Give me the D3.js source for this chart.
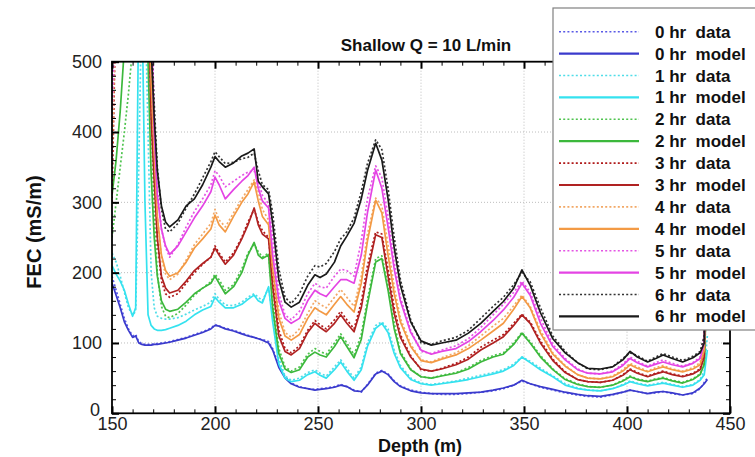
<!DOCTYPE html>
<html><head><meta charset="utf-8">
<script src="https://cdn.jsdelivr.net/npm/d3@7"></script>
<style>
body{margin:0;background:#fff;}
svg{display:block;font-family:"Liberation Sans",Arial,Helvetica,sans-serif;}
</style>
</head><body>
<svg id="chart" width="755" height="457"></svg>
<script>
// ---------- DATA ----------
const depth = [
 150,152,154,156,158,160,161.5,163,164.5,166,
 167.5,169,170.5,172,174,176,178,182,186,190,
 194,198,200,202,205,209,213,216,219,221,
 223,226,228,231,234,237,241,245,248.5,251,
 254,258,261,264,267.5,271,274,278,281,284,
 287,290,295,300,305,310,317,323,329,335,
 340,345,349,353,358,364,370,376,381,387,
 393,398,401.5,405,410,414,417.5,422,427,432,
 435.5,437.5,439];

const hourLabels = ["0 hr","1 hr","2 hr","3 hr","4 hr","5 hr","6 hr"];
const modelColors = ["#3a3acc","#35e2ef","#3cb83c","#b02222","#f39a45","#e444e4","#1a1a1a"];
const dataColors  = ["#5a5ae6","#4fdde8","#4fc44f","#b01a1a","#f2a866","#e455e4","#333333"];

const model0 = [185,168,150,130,118,108,110,100,98,97,
 97,97,98,98,99,100,101,104,107,111,
 115,120,125,124,120,117,113,110,108,106,
 104,100,90,65,50,42,37,35,33,34,
 35,37,40,38,32,31,40,56,60,55,
 45,38,32,29,28,28,28,29,30,33,
 36,40,47,42,38,34,30,27,25,24,
 27,30,33,31,28,30,31,29,26,29,
 36,42,48];
const data0 = [195,175,155,135,120,110,112,102,99,98,
 98,98,99,99,100,101,102,105,108,112,
 116,121,126,124,121,118,114,111,108,106,
 105,102,92,68,52,43,38,35,34,35,
 36,38,41,38,33,30,41,57,61,56,
 46,39,33,30,28,27,27,28,30,32,
 35,40,46,42,37,33,29,26,24,23,
 26,30,33,31,28,29,31,28,26,28,
 35,44,50];
const model1 = [210,198,188,175,155,138,150,600,600,300,
 140,125,120,118,118,119,121,125,131,140,
 147,152,165,158,150,150,155,162,168,160,
 157,180,130,70,50,45,47,55,59,54,
 50,62,73,60,47,62,95,121,128,115,
 85,65,48,42,40,42,45,48,52,56,
 60,68,80,72,62,52,40,35,33,32,
 35,40,45,42,39,41,43,40,37,40,
 47,55,90];
const data1 = [228,215,195,172,150,140,145,350,600,600,
 400,200,150,138,135,134,134,136,141,147,
 152,158,170,162,154,153,158,165,170,165,
 160,178,140,78,53,47,50,58,62,57,
 53,66,76,64,50,66,100,125,130,120,
 90,68,50,43,41,43,46,50,54,58,
 62,70,80,74,64,53,42,36,33,32,
 35,41,46,43,40,42,44,41,38,41,
 48,60,110];
const model2 = [310,360,430,520,600,600,600,600,600,600,
 500,340,250,195,160,148,145,148,158,170,
 178,185,195,185,170,180,200,225,243,225,
 220,225,150,85,63,58,62,80,87,83,
 80,95,109,95,79,105,155,215,220,175,
 120,85,62,52,50,53,57,63,73,80,
 84,98,114,100,80,62,48,41,38,37,
 40,46,52,48,45,48,50,46,43,48,
 55,70,200];
const data2 = [250,300,350,400,455,520,600,600,600,600,
 600,420,280,200,152,138,136,142,154,168,
 178,187,198,190,175,183,205,228,240,230,
 222,228,160,92,66,60,66,84,92,88,
 84,100,113,100,83,112,162,220,224,182,
 128,88,63,52,50,54,58,65,75,82,
 86,100,115,102,82,63,49,42,38,37,
 40,47,53,49,46,49,51,47,44,49,
 56,72,200];
const model3 = [600,600,600,600,600,600,600,600,600,600,
 600,420,330,250,195,178,171,175,188,203,
 213,222,235,225,212,225,248,268,292,268,
 255,248,180,110,88,83,92,115,128,122,
 116,128,140,128,116,150,200,254,250,195,
 142,108,80,63,60,63,69,77,90,100,
 109,125,140,128,100,75,58,48,45,44,
 47,54,62,57,52,56,59,55,52,56,
 62,80,400];
const data3 = [300,600,600,600,600,600,600,600,600,600,
 600,460,340,245,188,170,165,170,185,200,
 212,222,238,228,215,228,250,272,290,272,
 260,250,190,118,92,86,96,118,132,126,
 120,133,145,133,120,158,210,258,255,205,
 150,112,82,62,60,64,71,80,94,104,
 112,128,141,130,103,77,59,48,45,44,
 47,55,63,58,53,57,60,56,53,57,
 63,85,400];
const model4 = [600,600,600,600,600,600,600,600,600,600,
 600,470,370,280,225,203,195,200,215,235,
 248,262,282,268,258,280,300,312,329,302,
 280,268,205,135,110,104,112,135,150,145,
 140,155,166,155,144,185,245,303,285,225,
 170,130,95,75,72,77,83,92,104,117,
 128,148,166,150,114,84,67,55,50,49,
 52,60,69,64,59,63,66,62,59,63,
 69,90,400];
const data4 = [360,600,600,600,600,600,600,600,600,600,
 600,520,380,280,220,198,190,198,218,240,
 255,270,290,275,265,285,305,318,332,315,
 290,275,215,145,115,108,120,142,160,155,
 150,165,176,165,152,195,255,306,295,240,
 180,135,98,76,73,79,86,96,110,124,
 135,153,168,152,118,86,68,55,50,49,
 53,62,71,66,60,65,68,63,60,65,
 72,95,400];
const model5 = [600,600,600,600,600,600,600,600,600,600,
 600,560,400,310,262,238,226,238,258,278,
 295,315,336,325,305,318,330,338,350,320,
 302,292,225,160,135,128,135,160,175,170,
 166,180,190,190,185,225,285,346,320,265,
 205,160,115,90,84,88,92,102,116,132,
 147,165,185,168,128,95,76,62,57,56,
 59,68,78,72,66,70,73,69,66,71,
 78,100,400];
const data5 = [420,600,600,600,600,600,600,600,600,600,
 600,600,420,320,262,236,222,240,265,287,
 305,325,345,338,322,330,338,343,345,330,
 310,298,250,170,140,133,145,170,185,180,
 178,195,205,203,195,245,305,352,335,280,
 215,165,118,88,85,90,96,106,122,140,
 155,172,188,172,135,98,78,63,57,56,
 60,70,80,74,67,72,76,71,67,72,
 80,110,400];
const model6 = [600,600,600,600,600,600,600,600,600,600,
 600,520,420,345,295,272,265,275,295,305,
 325,350,365,358,350,356,366,370,376,330,
 322,312,270,190,158,151,158,182,197,193,
 198,215,238,252,270,305,345,384,360,305,
 235,182,130,103,97,100,104,114,128,145,
 159,178,204,182,143,106,86,72,64,63,
 66,76,88,80,73,78,83,78,73,79,
 86,100,400];
const data6 = [480,600,600,600,600,600,600,600,600,600,
 600,540,440,350,290,262,258,270,292,312,
 335,358,372,365,355,357,362,364,370,345,
 325,318,285,205,165,156,170,195,210,208,
 213,230,248,258,278,315,355,389,375,320,
 250,190,133,100,98,103,108,118,135,152,
 165,183,200,187,150,110,88,72,63,62,
 66,78,86,82,74,80,85,80,75,81,
 88,110,400];

const xMajor = [150,200,250,300,350,400,450];
const yMajor = [0,100,200,300,400,500];

// ---------- BUILD ----------
const modelSets = [model0,model1,model2,model3,model4,model5,model6];
const dataSets  = [data0,data1,data2,data3,data4,data5,data6];
const series = [];
hourLabels.forEach((h,i)=>{
  series.push({name:h+"  data", values:dataSets[i], color:dataColors[i], dashed:true});
  series.push({name:h+"  model", values:modelSets[i], color:modelColors[i], dashed:false});
});

const svg = d3.select("#chart");
const L=112, R=730, T=61.7, B=413.3;
const x = d3.scaleLinear().domain([150,450]).range([L,R]);
const y = d3.scaleLinear().domain([0,500]).range([B,T]);

svg.append("rect").attr("width",755).attr("height",457).attr("fill","#fff");

// grid
const grid = svg.append("g").attr("stroke","#b5b5b5").attr("stroke-width",0.9).attr("stroke-dasharray","1,2");
xMajor.slice(1,-1).forEach(v=>grid.append("line").attr("x1",x(v)).attr("x2",x(v)).attr("y1",T).attr("y2",B));
yMajor.slice(1,-1).forEach(v=>grid.append("line").attr("y1",y(v)).attr("y2",y(v)).attr("x1",L).attr("x2",R));

// clip
svg.append("defs").append("clipPath").attr("id","clip")
  .append("rect").attr("x",L).attr("y",T).attr("width",R-L).attr("height",B-T);

const line = d3.line().x((d,i)=>x(depth[i])).y(d=>y(d));
const lg = svg.append("g").attr("clip-path","url(#clip)");
series.forEach(s=>{
  lg.append("path").attr("d",line(s.values)).attr("fill","none")
    .attr("stroke",s.color).attr("stroke-width",1.7)
    .attr("stroke-dasharray",s.dashed?"2,2.2":null)
    .attr("stroke-linejoin","round");
});

// axes
const xMinor = d3.range(160,450,10).filter(v=>v%50!==0);
const yMinor = d3.range(20,500,20).filter(v=>v%100!==0);
function styleAxis(g,w){ g.select(".domain").remove(); g.selectAll(".tick line").attr("stroke","#000").attr("stroke-width",w); }
svg.append("g").attr("transform",`translate(0,${B})`)
  .call(d3.axisBottom(x).tickValues(xMajor).tickSize(-7).tickPadding(4).tickFormat(d3.format("d")))
  .call(g=>styleAxis(g,2)).call(g=>g.selectAll("text").attr("font-size",18).attr("fill","#222").attr("font-family","Liberation Sans, Arial"));
svg.append("g").attr("transform",`translate(0,${B})`)
  .call(d3.axisBottom(x).tickValues(xMinor).tickSize(-4).tickFormat(""))
  .call(g=>styleAxis(g,1));
svg.append("g").attr("transform",`translate(0,${T})`)
  .call(d3.axisTop(x).tickValues(xMajor).tickSize(-7).tickFormat(""))
  .call(g=>styleAxis(g,2));
svg.append("g").attr("transform",`translate(0,${T})`)
  .call(d3.axisTop(x).tickValues(xMinor).tickSize(-4).tickFormat(""))
  .call(g=>styleAxis(g,1));
const yAx = svg.append("g").attr("transform",`translate(${L},0)`)
  .call(d3.axisLeft(y).tickValues(yMajor).tickSize(-7).tickPadding(10).tickFormat(d3.format("d")))
  .call(g=>styleAxis(g,2)).call(g=>g.selectAll("text").attr("font-size",18).attr("fill","#222").attr("font-family","Liberation Sans, Arial"));
// the "0" label sits a little higher and left, tucked against "150"
yAx.selectAll(".tick").filter(d=>d===0).select("text").attr("dy","0.1em").attr("x",-12);
svg.append("g").attr("transform",`translate(${L},0)`)
  .call(d3.axisLeft(y).tickValues(yMinor).tickSize(-4).tickFormat(""))
  .call(g=>styleAxis(g,1));
svg.append("g").attr("transform",`translate(${R},0)`)
  .call(d3.axisRight(y).tickValues(yMajor).tickSize(-7).tickFormat(""))
  .call(g=>styleAxis(g,2));
svg.append("g").attr("transform",`translate(${R},0)`)
  .call(d3.axisRight(y).tickValues(yMinor).tickSize(-4).tickFormat(""))
  .call(g=>styleAxis(g,1));

// frame
svg.append("rect").attr("x",L).attr("y",T).attr("width",R-L).attr("height",B-T)
  .attr("fill","none").attr("stroke","#000").attr("stroke-width",1.8);

// titles
svg.append("text").attr("x",426).attr("y",51).attr("text-anchor","middle")
  .attr("font-weight","bold").attr("font-size",17).attr("fill","#111").text("Shallow Q = 10 L/min");
svg.append("text").attr("x",420).attr("y",452).attr("text-anchor","middle")
  .attr("font-weight","bold").attr("font-size",18).attr("fill","#111").text("Depth (m)");
svg.append("text").attr("transform","translate(41,232) rotate(-90)").attr("text-anchor","middle")
  .attr("font-weight","bold").attr("font-size",20).attr("fill","#111").text("FEC (mS/m)");

// legend
const leg = svg.append("g");
leg.append("rect").attr("x",553).attr("y",8).attr("width",215).attr("height",322)
  .attr("fill","#fff").attr("stroke","#808080").attr("stroke-width",1.2);
series.forEach((s,i)=>{
  const cy = 31.7 + i*21.9;
  leg.append("line").attr("x1",559).attr("x2",639).attr("y1",cy).attr("y2",cy)
    .attr("stroke",s.color).attr("stroke-width",s.dashed?1.6:2.2)
    .attr("stroke-dasharray",s.dashed?"2,2.2":null);
  leg.append("text").attr("x",655).attr("y",cy+6).attr("font-size",17).attr("font-weight","bold")
    .attr("fill","#111").attr("xml:space","preserve").style("white-space","pre").text(s.name);
});
</script>
</body></html>
